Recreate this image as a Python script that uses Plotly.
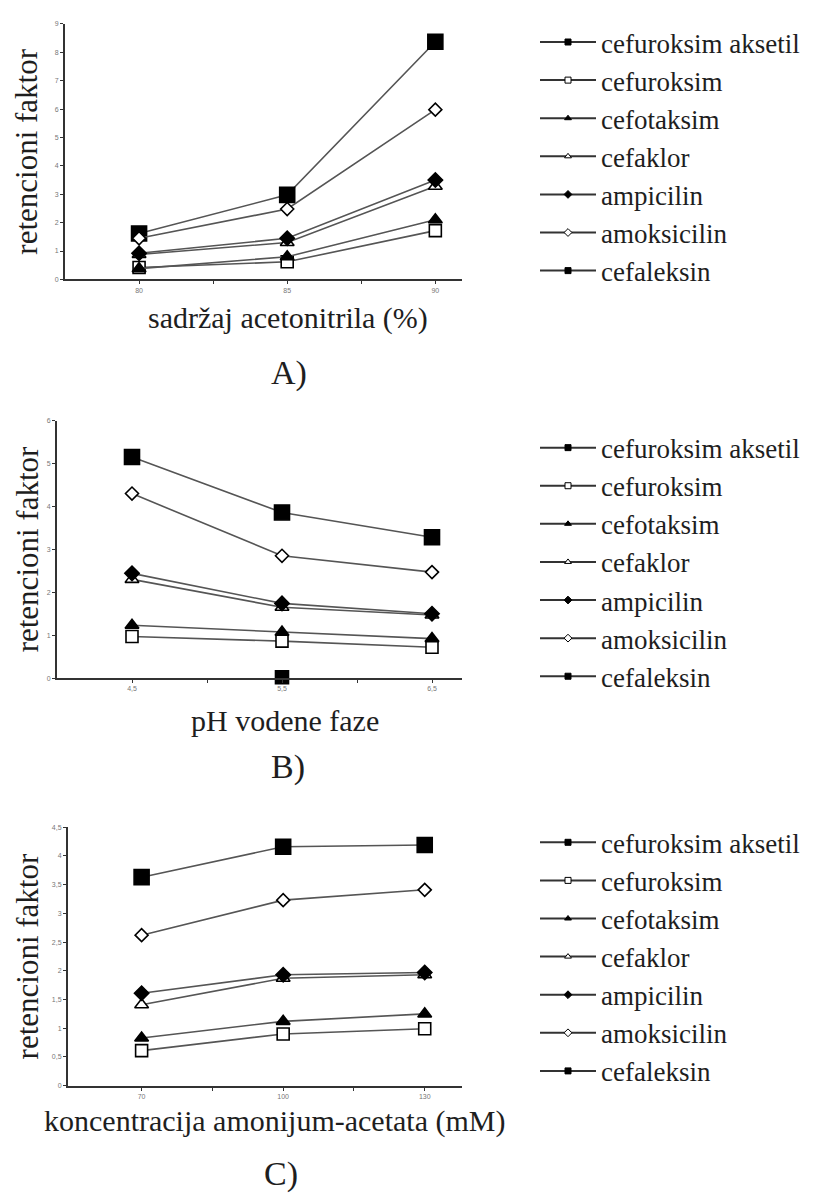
import plotly.graph_objects as go

names = ["cefuroksim aksetil", "cefuroksim", "cefotaksim", "cefaklor",
         "ampicilin", "amoksicilin", "cefaleksin"]
symbols = ["square", "square-open", "triangle-up", "triangle-up-open",
           "diamond", "diamond-open", "square"]
sizes = [15, 12, 12, 12, 11, 10, 13]

# A) acetonitrile content (%)
x_a = [80, 85, 90]
y_a = {
    "cefuroksim aksetil": [1.62, 2.98, 8.37],
    "cefuroksim": [0.42, 0.62, 1.72],
    "cefotaksim": [0.38, 0.8, 2.1],
    "cefaklor": [0.88, 1.3, 3.28],
    "ampicilin": [0.92, 1.45, 3.5],
    "amoksicilin": [1.45, 2.48, 5.98],
    "cefaleksin": [None, None, None],
}

# B) pH of aqueous phase
x_b = [4.5, 5.5, 6.5]
y_b = {
    "cefuroksim aksetil": [5.15, 3.86, 3.28],
    "cefuroksim": [0.97, 0.86, 0.72],
    "cefotaksim": [1.23, 1.07, 0.92],
    "cefaklor": [2.3, 1.65, 1.47],
    "ampicilin": [2.44, 1.74, 1.5],
    "amoksicilin": [4.3, 2.85, 2.47],
    "cefaleksin": [None, 0.02, None],
}

# C) ammonium acetate concentration (mM)
x_c = [70, 100, 130]
y_c = {
    "cefuroksim aksetil": [3.63, 4.16, 4.19],
    "cefuroksim": [0.61, 0.9, 0.99],
    "cefotaksim": [0.83, 1.12, 1.25],
    "cefaklor": [1.41, 1.87, 1.93],
    "ampicilin": [1.61, 1.93, 1.97],
    "amoksicilin": [2.62, 3.23, 3.41],
    "cefaleksin": [None, None, None],
}

W, H = 819, 1196
OFF = 8  # page body margin
serif = "Liberation Serif"
txt = "#1e1e1e"
line_col = "#555555"


def px_x(p):
    return (p - OFF) / W


def px_y(p):
    return 1 - (p - OFF) / H


panels = [
    dict(x=x_a, y=y_a, xdom=(65, 462), ydom=(20, 277), yr=[0, 9], dt=1,
         xr=[77.5, 90.9], xt=x_a, minor=[82.5, 87.5],
         xtitle="sadržaj acetonitrila (%)", xtx=288, xty=316, lab="A)", labx=289,
         laby=371, leg1=46),
    dict(x=x_b, y=y_b, xdom=(57, 462), ydom=(419, 678), yr=[0, 6], dt=1,
         xr=[4.0, 6.7], xt=x_b, minor=[5.0, 6.0],
         xtitle="pH vodene faze", xtx=285, xty=721, lab="B)", labx=288,
         laby=767, leg1=454),
    dict(x=x_c, y=y_c, xdom=(68, 462), ydom=(828, 1088), yr=[0, 4.5], dt=0.5,
         xr=[54.4, 137.9], xt=x_c, minor=[85, 115],
         xtitle="koncentracija amonijum-acetata (mM)", xtx=274, xty=1124,
         lab="C)", labx=281, laby=1177, leg1=851),
]

fig = go.Figure()
annotations = []

for i, p in enumerate(panels):
    k = "" if i == 0 else str(i + 1)
    leg = "legend" + k
    for j, n in enumerate(names):
        fill = "white" if "open" in symbols[j] else "black"
        sym = symbols[j].replace("-open", "")
        fig.add_trace(go.Scatter(
            x=p["x"], y=p["y"][n], mode="lines+markers", name=n,
            xaxis="x" + k, yaxis="y" + k, showlegend=False, cliponaxis=False,
            line=dict(color=line_col, width=1.6),
            marker=dict(symbol=sym, size=sizes[j], color=fill,
                        line=dict(color="black", width=1.6)),
        ))
    # small-marker legend entries
    for j, n in enumerate(names):
        fill = "white" if "open" in symbols[j] else "black"
        sym = symbols[j].replace("-open", "")
        fig.add_trace(go.Scatter(
            x=[None], y=[None], mode="lines+markers", name=n,
            xaxis="x" + k, yaxis="y" + k, legend=leg,
            line=dict(color="#333333", width=2),
            marker=dict(symbol=sym, size=6, color=fill,
                        line=dict(color="black", width=1)),
        ))

    axis_common = dict(showline=True, linecolor="#333333", linewidth=2,
                       showgrid=False, zeroline=False, ticks="outside",
                       ticklen=3, tickcolor="#333333",
                       tickfont=dict(size=7, color="#777777", family="Arial"))
    fig.update_layout(**{
        "xaxis" + k: dict(axis_common, domain=[px_x(p["xdom"][0]), px_x(p["xdom"][1])],
                          range=p["xr"], tickvals=p["xt"], anchor="y" + k,
                          minor=dict(tickvals=p["minor"], ticks="outside",
                                     ticklen=3, tickcolor="#333333")),
        "yaxis" + k: dict(axis_common, domain=[px_y(p["ydom"][1]), px_y(p["ydom"][0])],
                          range=p["yr"], dtick=p["dt"], anchor="x" + k),
        leg: dict(x=px_x(535), y=px_y(p["leg1"] - 4 - 28), xanchor="left",
                  yanchor="top", font=dict(family=serif, size=27, color=txt),
                  itemwidth=56, tracegroupgap=0, bgcolor="rgba(0,0,0,0)"),
    })

    mid_y = (p["ydom"][0] + p["ydom"][1]) / 2
    annotations.append(dict(text="retencioni faktor", x=px_x(27), y=px_y(mid_y),
                            xanchor="center", yanchor="middle",
                            xref="paper", yref="paper", textangle=-90,
                            showarrow=False, font=dict(family=serif, size=31, color=txt)))
    annotations.append(dict(text=p["xtitle"], x=px_x(p["xtx"]), y=px_y(p["xty"]),
                            xanchor="center", yanchor="middle",
                            xref="paper", yref="paper",
                            showarrow=False, font=dict(family=serif, size=30, color=txt)))
    annotations.append(dict(text=p["lab"], x=px_x(p["labx"]), y=px_y(p["laby"]),
                            xanchor="center", yanchor="middle",
                            xref="paper", yref="paper", showarrow=False,
                            font=dict(family=serif, size=34, color=txt)))

fig.update_layout(
    width=W, height=H, margin=dict(l=0, r=0, t=0, b=0),
    paper_bgcolor="white", plot_bgcolor="white",
    separators=",.", annotations=annotations,
)

fig.write_html("out.html")
